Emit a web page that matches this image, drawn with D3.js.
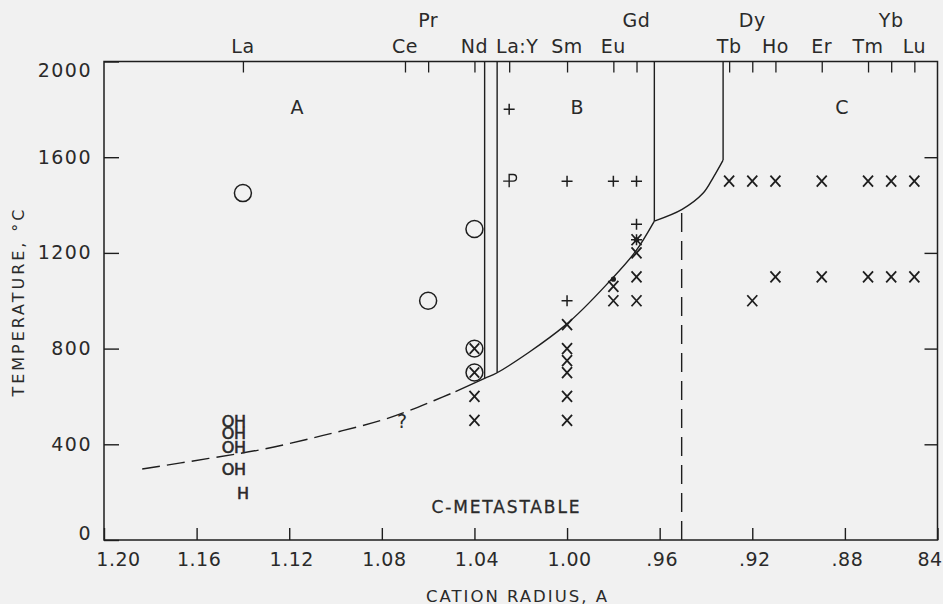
<!DOCTYPE html>
<html><head><meta charset="utf-8">
<script src="https://cdn.jsdelivr.net/npm/d3@7"></script>
<style>
html,body{margin:0;padding:0;background:#f1f1f1;}
svg{display:block;}
text{font-family:"DejaVu Sans",sans-serif;fill:#2a2a2a;}
</style></head><body>
<svg id="chart" width="943" height="604"></svg>
<script>
// ---------- data ----------
const xTickValues = [1.20, 1.16, 1.12, 1.08, 1.04, 1.00, 0.96, 0.92, 0.88, 0.84];
const xTickLabels = ["1.20", "1.16", "1.12", "1.08", "1.04", "1.00", ".96", ".92", ".88", "84"];
const yTickValues = [0, 400, 800, 1200, 1600, 2000];
const yTickLabels = ["0", "400", "800", "1200", "1600", "2000"];

const elementNames = ["La", "Ce", "Pr", "Nd", "La:Y", "Sm", "Eu", "Gd", "Tb", "Dy", "Ho", "Er", "Tm", "Yb", "Lu"];
const elementRadii = [1.14, 1.07, 1.06, 1.04, 1.025, 1.00, 0.98, 0.97, 0.93, 0.92, 0.91, 0.89, 0.87, 0.86, 0.85];
const elementRow   = [0, 0, 1, 0, 0, 0, 0, 1, 0, 1, 0, 0, 0, 1, 0];

const regionNames = ["A", "B", "C", "C-METASTABLE"];
const regionRadii = [1.1166, 0.9957, 0.8813, 1.0266];
const regionTemps = [1808, 1808, 1808, 139];

// phase boundary (radius, temperature)
const boundaryDashed = [[1.1835, 297], [1.1547, 341], [1.131, 380], [1.1058, 436], [1.0806, 499], [1.0684, 540], [1.0576, 582], [1.0482, 620]];
const boundarySolid  = [[1.0482, 620], [1.0356, 676], [1.0302, 699], [1.0007, 898], [0.9809, 1089], [0.9705, 1205], [0.9623, 1333]];
const boundaryUpper  = [[0.9623, 1333], [0.9503, 1382], [0.9413, 1449], [0.9367, 1518], [0.9326, 1588]];
// vertical boundaries: radius, from temp, to temp
const verticalRadii = [1.0356, 1.0302, 0.9623, 0.9326];
const verticalFrom  = [676, 699, 1333, 1588];
const verticalTo    = [2000, 2000, 2000, 2000];
const dashedVertical = [[0.9505, 0], [0.9505, 1380]];

// observations
const crossPoints = [[1.04, 600], [1.04, 500],
  [1.00, 900], [1.00, 800], [1.00, 750], [1.00, 700], [1.00, 600], [1.00, 500],
  [0.98, 1060], [0.98, 1000],
  [0.97, 1255], [0.97, 1200], [0.97, 1100], [0.97, 1000],
  [0.93, 1500], [0.92, 1500], [0.92, 1000], [0.91, 1500], [0.91, 1100],
  [0.89, 1500], [0.89, 1100], [0.87, 1500], [0.87, 1100], [0.86, 1500], [0.86, 1100],
  [0.85, 1500], [0.85, 1100]];
const plusPoints = [[1.025, 1800], [1.00, 1500], [1.00, 1000], [0.98, 1500], [0.97, 1500], [0.97, 1320], [0.97, 1255]];
const pPoints = [[1.025, 1500]];
const circlePoints = [[1.14, 1450], [1.06, 1000], [1.04, 1300]];
const crossedCirclePoints = [[1.04, 800], [1.04, 700]];
const dotPoints = [[0.98, 1090], [0.97, 1255]];
const ohPoints = [[1.144, 495], [1.144, 445], [1.144, 388], [1.144, 295]];
const hPoints = [[1.14, 195]];
const questionPoints = [[1.0713, 495]];

// ---------- chart ----------
const svg = d3.select("#chart");
const x = d3.scaleLinear().domain([1.20, 0.84]).range([104, 937.5]);
const y = d3.scaleLinear().domain([0, 2000]).range([540, 61.5]);
const ink = "#1e1e1e";
const tickFont = 19;

svg.append("rect").attr("width", 943).attr("height", 604).attr("fill", "#f1f1f1");

// frame
svg.append("rect")
  .attr("x", x(1.20)).attr("y", y(2000))
  .attr("width", x(0.84) - x(1.20)).attr("height", y(0) - y(2000))
  .attr("fill", "none").attr("stroke", ink).attr("stroke-width", 1.5);

// bottom axis
const bottomAxis = svg.append("g").attr("transform", `translate(0,${y(0)})`)
  .call(d3.axisBottom(x).tickValues(xTickValues)
    .tickFormat((d, i) => xTickLabels[i]).tickSizeInner(-12).tickSizeOuter(0).tickPadding(13));
bottomAxis.select(".domain").remove();
bottomAxis.selectAll(".tick line").attr("stroke", ink).attr("stroke-width", 1.4);
bottomAxis.selectAll(".tick text").attr("font-size", tickFont).attr("fill", "#2a2a2a")
  .attr("font-family", "DejaVu Sans").style("letter-spacing", "0.5px")
  .attr("dx", (d, i) => i === 0 ? 14 : (i === xTickValues.length - 1 ? -8 : 2));

// left axis
const leftAxis = svg.append("g").attr("transform", `translate(${x(1.20)},0)`)
  .call(d3.axisLeft(y).tickValues(yTickValues)
    .tickFormat((d, i) => yTickLabels[i]).tickSizeInner(-15).tickSizeOuter(0).tickPadding(12));
leftAxis.select(".domain").remove();
leftAxis.selectAll(".tick line").attr("stroke", ink).attr("stroke-width", 1.4);
leftAxis.selectAll(".tick text").attr("font-size", tickFont).attr("fill", "#2a2a2a")
  .attr("font-family", "DejaVu Sans").style("letter-spacing", "1.5px")
  .attr("dy", d => d === 2000 ? "0.78em" : (d === 0 ? "-0.05em" : "0.32em"));

// right axis (ticks only)
const rightAxis = svg.append("g").attr("transform", `translate(${x(0.84)},0)`)
  .call(d3.axisRight(y).tickValues(yTickValues.slice(1, -1)).tickFormat("").tickSizeInner(-13).tickSizeOuter(0));
rightAxis.select(".domain").remove();
rightAxis.selectAll(".tick line").attr("stroke", ink).attr("stroke-width", 1.4);

// top axis (element ticks)
const topAxis = svg.append("g").attr("transform", `translate(0,${y(2000)})`)
  .call(d3.axisTop(x).tickValues(elementRadii).tickFormat("").tickSizeInner(-11).tickSizeOuter(0));
topAxis.select(".domain").remove();
topAxis.selectAll(".tick line").attr("stroke", ink).attr("stroke-width", 1.3);

svg.append("g").selectAll("text").data(elementNames).join("text")
  .attr("x", (d, i) => x(elementRadii[i]) + (d === "La:Y" ? 8 : 0))
  .attr("y", (d, i) => elementRow[i] === 1 ? 27 : 53)
  .attr("text-anchor", "middle").attr("font-size", tickFont)
  .style("letter-spacing", "0.5px")
  .text(d => d);

// region labels
svg.append("g").selectAll("text").data(regionNames).join("text")
  .attr("x", (d, i) => x(regionRadii[i])).attr("y", (d, i) => y(regionTemps[i]))
  .attr("dy", "0.36em").attr("text-anchor", "middle")
  .attr("font-size", (d, i) => i === 3 ? 17 : 19)
  .attr("stroke", (d, i) => i === 3 ? "#2a2a2a" : "none").attr("stroke-width", 0.3)
  .attr("textLength", (d, i) => i === 3 ? 148 : null)
  .attr("lengthAdjust", "spacing")
  .text(d => d);

// axis titles
svg.append("text").attr("x", 516.5).attr("y", 601.5).attr("text-anchor", "middle")
  .attr("font-size", 16.5).attr("textLength", 181).attr("lengthAdjust", "spacing")
  .text("CATION RADIUS, A");
svg.append("text").attr("transform", "translate(23.5,303) rotate(-90)").attr("text-anchor", "middle")
  .attr("font-size", 16).attr("textLength", 187).attr("lengthAdjust", "spacing")
  .text("TEMPERATURE, °C");

// boundaries
const line = d3.line().x(d => x(d[0])).y(d => y(d[1])).curve(d3.curveCatmullRom.alpha(0.5));
const lines = svg.append("g").attr("fill", "none").attr("stroke", ink).attr("stroke-width", 1.4);
lines.append("path").attr("d", line(boundaryDashed)).attr("stroke-dasharray", "18,7");
lines.append("path").attr("d", line(boundarySolid));
lines.append("path").attr("d", line(boundaryUpper));
lines.selectAll(".v").data(verticalRadii).join("line").attr("class", "v")
  .attr("x1", d => x(d)).attr("x2", d => x(d))
  .attr("y1", (d, i) => y(verticalFrom[i])).attr("y2", (d, i) => y(verticalTo[i]));
lines.append("path").attr("d", d3.line().x(d => x(d[0])).y(d => y(d[1]))(dashedVertical))
  .attr("stroke-dasharray", "19,9");

// markers
const mk = svg.append("g").attr("fill", "none").attr("stroke", ink);
const tr = d => `translate(${x(d[0])},${y(d[1])})`;
mk.selectAll(".xm").data(crossPoints).join("path").attr("class", "xm")
  .attr("transform", tr).attr("stroke-width", 1.8)
  .attr("d", "M-5,-5.5L5,5.5M5,-5.5L-5,5.5");
mk.selectAll(".pl").data(plusPoints).join("path").attr("class", "pl")
  .attr("transform", tr).attr("stroke-width", 1.5)
  .attr("d", "M-5.5,0H5.5M0,-5.5V5.5");
mk.selectAll(".pp").data(pPoints).join("path").attr("class", "pp")
  .attr("transform", tr).attr("stroke-width", 1.4)
  .attr("d", "M-6,0H4A3.3,3.3 0 0 0 4,-6.6H0V6");
mk.selectAll(".ci").data(circlePoints).join("circle").attr("class", "ci")
  .attr("transform", tr).attr("r", 8.5).attr("stroke-width", 1.5);
const cc = mk.selectAll(".cc").data(crossedCirclePoints).join("g").attr("class", "cc").attr("transform", tr);
cc.append("circle").attr("r", 8.4).attr("stroke-width", 1.5);
cc.append("path").attr("d", "M-4.8,-5.2L4.8,5.2M4.8,-5.2L-4.8,5.2").attr("stroke-width", 1.8);
mk.selectAll(".dt").data(dotPoints).join("circle").attr("class", "dt")
  .attr("transform", tr).attr("r", 2.6).attr("fill", ink).attr("stroke", "none");

const txt = svg.append("g");
txt.selectAll(".oh").data(ohPoints).join("text").attr("class", "oh")
  .attr("transform", tr).attr("text-anchor", "middle").attr("dy", "0.36em")
  .attr("font-size", 16).attr("stroke", "#2a2a2a").attr("stroke-width", 0.6)
  .style("letter-spacing", "-0.5px").text("OH");
txt.selectAll(".h").data(hPoints).join("text").attr("class", "h")
  .attr("transform", tr).attr("text-anchor", "middle").attr("dy", "0.36em")
  .attr("font-size", 16).attr("stroke", "#2a2a2a").attr("stroke-width", 0.6).text("H");
txt.selectAll(".q").data(questionPoints).join("text").attr("class", "q")
  .attr("transform", tr).attr("text-anchor", "middle").attr("dy", "0.36em")
  .attr("font-size", 19).text("?");
</script>
</body></html>
